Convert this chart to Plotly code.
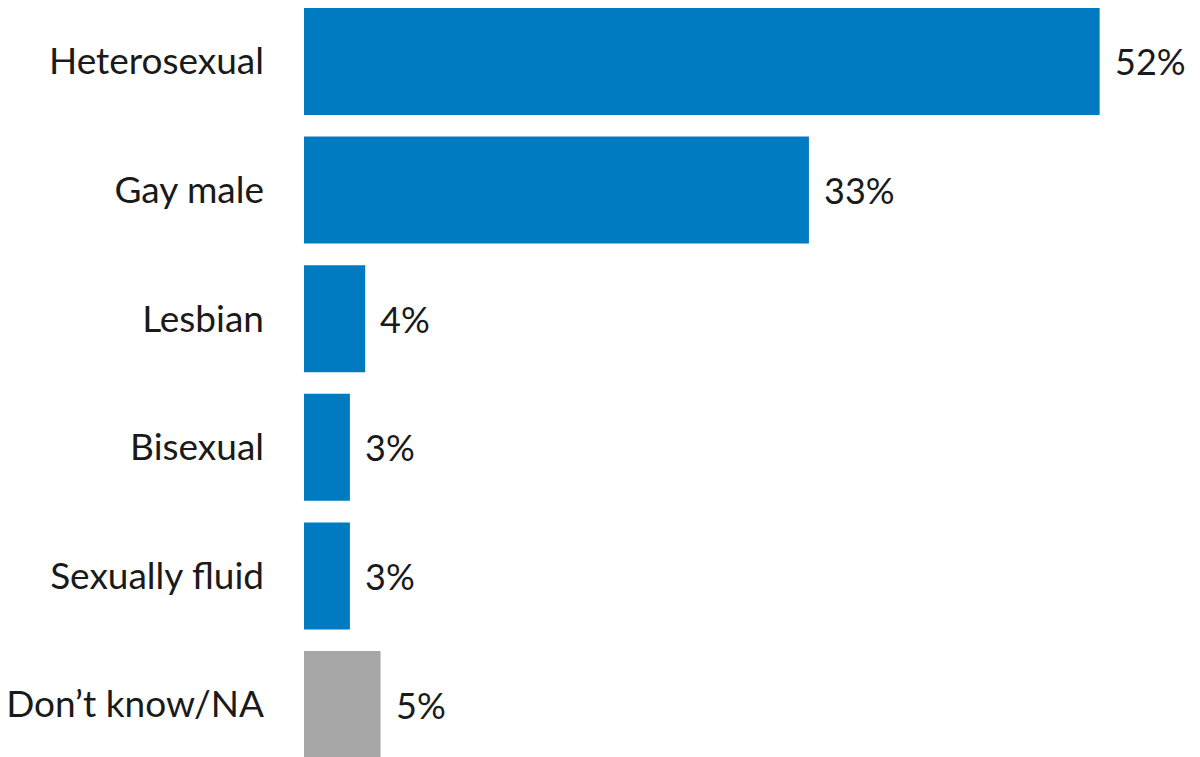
import plotly.graph_objects as go

categories = ["Heterosexual", "Gay male", "Lesbian", "Bisexual", "Sexually fluid", "Don\u2019t know/NA"]
values = [52, 33, 4, 3, 3, 5]
value_labels = ["52%", "33%", "4%", "3%", "3%", "5%"]

blue = "#007AC0"
grey = "#A6A6A6"
colors = [blue] * 5 + [grey]
text_color = "#1a1a1a"
font_family = "Lato"

fig = go.Figure(
    go.Bar(
        x=values,
        y=categories,
        orientation="h",
        marker=dict(color=colors, line=dict(width=0)),
        width=0.832,
        hoverinfo="x+y",
    )
)

# value labels just past the end of each bar
for cat, val, lab in zip(categories, values, value_labels):
    fig.add_annotation(
        x=val,
        y=cat,
        text=lab,
        showarrow=False,
        xanchor="left",
        yanchor="middle",
        xshift=13,
        font=dict(family=font_family, size=36, color=text_color),
    )

fig.update_layout(
    width=1200,
    height=757,
    margin=dict(l=304, r=0, t=0, b=0),
    plot_bgcolor="white",
    paper_bgcolor="white",
    showlegend=False,
    font=dict(family=font_family, size=36, color=text_color),
)

fig.update_xaxes(range=[0, 58.56], visible=False)
fig.update_yaxes(
    range=[5.408, -0.478],
    showgrid=False,
    zeroline=False,
    showline=False,
    ticks="",
    ticklabelstandoff=39,
    tickfont=dict(family=font_family, size=37, color=text_color),
)

fig.write_html("out.html")
